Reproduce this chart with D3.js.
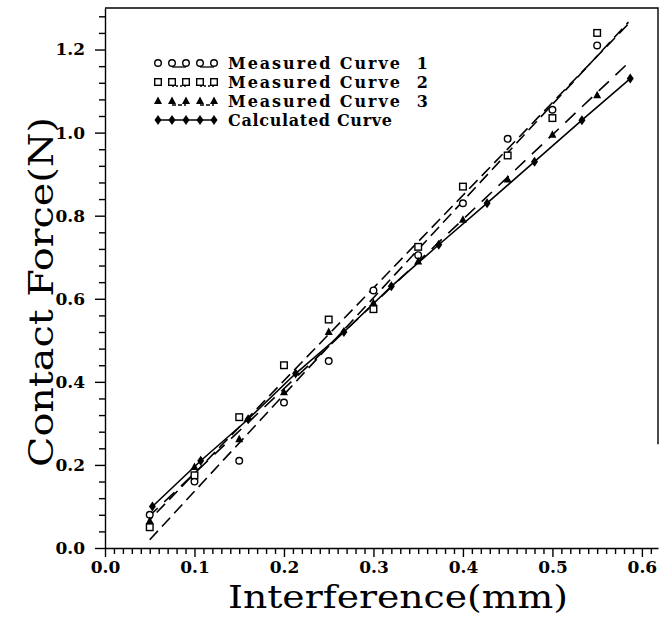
<!DOCTYPE html>
<html lang="en">
<head>
  <meta charset="UTF-8" />
  <title>Contact Force vs Interference</title>
  <script src="https://d3js.org/d3.v7.min.js"></script>
  <style>
    body { margin: 0; background: #ffffff; }
    svg { display: block; }
    .tick text {
      font-family: "DejaVu Serif", serif;
      font-weight: bold;
      font-size: 17px;
      fill: #000;
    }
    .axis path, .axis line { stroke: #000; stroke-width: 1.4; }
  </style>
</head>
<body>
  <div id="chart"></div>
  <script>
    // measured interference values (mm)
    const measX = [0.05, 0.10, 0.15, 0.20, 0.25, 0.30, 0.35, 0.40, 0.45, 0.50, 0.55];
    const curve1 = [0.08, 0.16, 0.21, 0.35, 0.45, 0.62, 0.705, 0.83, 0.985, 1.055, 1.21];
    const curve2 = [0.05, 0.175, 0.315, 0.44, 0.55, 0.575, 0.725, 0.87, 0.945, 1.035, 1.24];
    const curve3 = [0.065, 0.195, 0.262, 0.375, 0.52, 0.59, 0.69, 0.79, 0.887, 0.995, 1.09];

    // calculated curve
    const calcX = [0.053, 0.107, 0.16, 0.213, 0.267, 0.32, 0.373, 0.427, 0.48, 0.533, 0.587];
    const calcY = [0.10, 0.21, 0.31, 0.42, 0.52, 0.63, 0.73, 0.83, 0.93, 1.03, 1.13];

    // straight fitted lines through the measured points (end points)
    const fitX = [0.05, 0.585];
    const fit1 = [0.02, 1.266];
    const fit2 = [0.068, 1.262];
    const fit3 = [0.078, 1.168];

    const xTicks = [0.0, 0.1, 0.2, 0.3, 0.4, 0.5, 0.6];
    const yTicks = [0.0, 0.2, 0.4, 0.6, 0.8, 1.0, 1.2];
    const xMinorStep = 0.01;
    const yMinorStep = 0.04;

    const legendLabels = ["Measured Curve  1", "Measured Curve  2", "Measured Curve  3", "Calculated Curve"];

    const width = 660, height = 617;
    const svg = d3.select("#chart").append("svg")
      .attr("width", width)
      .attr("height", height);

    const x = d3.scaleLinear().domain([0, 0.618]).range([105, 658]);
    const y = d3.scaleLinear().domain([0, 1.3]).range([548, 8]);

    // minor ticks
    const xMinor = d3.range(0, 0.6151, xMinorStep).filter(v => Math.abs(v * 10 - Math.round(v * 10)) > 1e-6);
    const yMinor = d3.range(0, 1.2901, yMinorStep).filter(v => Math.abs(v * 5 - Math.round(v * 5)) > 1e-6);

    svg.append("g")
      .attr("class", "axis")
      .attr("transform", `translate(0,${y(0)})`)
      .call(d3.axisBottom(x).tickValues(xMinor).tickSize(6).tickFormat(""))
      .select(".domain").remove();

    svg.append("g")
      .attr("class", "axis")
      .attr("transform", `translate(0,${y(0)})`)
      .call(d3.axisBottom(x).tickValues(xTicks).tickSize(9).tickSizeOuter(0).tickPadding(4)
        .tickFormat(d3.format(".1f")));

    svg.append("g")
      .attr("class", "axis")
      .attr("transform", `translate(${x(0)},0)`)
      .call(d3.axisLeft(y).tickValues(yMinor).tickSize(6).tickFormat(""))
      .select(".domain").remove();

    svg.append("g")
      .attr("class", "axis")
      .attr("transform", `translate(${x(0)},0)`)
      .call(d3.axisLeft(y).tickValues(yTicks).tickSize(10).tickSizeOuter(0).tickPadding(10)
        .tickFormat(d3.format(".1f")));

    // frame: top and (partial) right edge
    svg.append("path")
      .attr("d", `M${x(0)},${y(1.3)}H${x(0.618)}V${y(0.25)}`)
      .attr("fill", "none")
      .attr("stroke", "#000")
      .attr("stroke-width", 1.4);

    // axis titles
    svg.append("text")
      .attr("x", 398)
      .attr("y", 608)
      .attr("text-anchor", "middle")
      .attr("textLength", 340)
      .attr("lengthAdjust", "spacingAndGlyphs")
      .style("font-family", "'DejaVu Serif', serif")
      .style("font-size", "32px")
      .text("Interference(mm)");

    svg.append("text")
      .attr("transform", "translate(53,292) rotate(-90)")
      .attr("text-anchor", "middle")
      .attr("textLength", 350)
      .attr("lengthAdjust", "spacingAndGlyphs")
      .style("font-family", "'DejaVu Serif', serif")
      .style("font-size", "33px")
      .text("Contact Force(N)");

    const plot = svg.append("g");

    // fitted lines
    const fits = [
      { ys: fit1, dash: "12,6", offset: 0 },
      { ys: fit2, dash: "12,6", offset: 8 },
      { ys: fit3, dash: "14,9", offset: 3 }
    ];
    const lineGen = d3.line().x(d => x(d[0])).y(d => y(d[1]));

    fits.forEach(f => {
      plot.append("path")
        .datum(fitX.map((v, i) => [v, f.ys[i]]))
        .attr("fill", "none")
        .attr("stroke", "#000")
        .attr("stroke-width", 1.6)
        .attr("stroke-dasharray", f.dash)
        .attr("stroke-dashoffset", f.offset)
        .attr("d", lineGen);
    });

    // calculated line
    plot.append("path")
      .datum(calcX.map((v, i) => [v, calcY[i]]))
      .attr("fill", "none")
      .attr("stroke", "#000")
      .attr("stroke-width", 1.6)
      .attr("d", lineGen);

    // marker drawers
    function drawCircle(g, cx, cy) {
      g.append("circle").attr("cx", cx).attr("cy", cy).attr("r", 3.3)
        .attr("fill", "#fff").attr("stroke", "#000").attr("stroke-width", 1.4);
    }
    function drawSquare(g, cx, cy) {
      g.append("rect").attr("x", cx - 3.3).attr("y", cy - 3.3).attr("width", 6.6).attr("height", 6.6)
        .attr("fill", "#fff").attr("stroke", "#000").attr("stroke-width", 1.4);
    }
    function drawTriangle(g, cx, cy) {
      g.append("path").attr("d", `M${cx},${cy - 4.5}L${cx + 4},${cy + 3}L${cx - 4},${cy + 3}Z`)
        .attr("fill", "#000");
    }
    function drawDiamond(g, cx, cy) {
      g.append("path").attr("d", `M${cx},${cy - 5}L${cx + 3.5},${cy}L${cx},${cy + 5}L${cx - 3.5},${cy}Z`)
        .attr("fill", "#000");
    }

    const series = [
      { xs: measX, ys: curve1, draw: drawCircle },
      { xs: measX, ys: curve2, draw: drawSquare },
      { xs: measX, ys: curve3, draw: drawTriangle },
      { xs: calcX, ys: calcY, draw: drawDiamond }
    ];

    series.forEach(s => {
      s.xs.forEach((v, i) => s.draw(plot, x(v), y(s.ys[i])));
    });

    // legend
    const legend = svg.append("g");
    const legX = [158, 172, 186, 200, 214];
    const legY = [63, 82, 101, 120];
    const legLen = [200, 200, 200, 164];
    const legStyles = ["", "2,2", "4,2", ""];

    series.forEach((s, r) => {
      const ly = legY[r];
      if (r < 3) {
        [[1, 2], [3, 4]].forEach(([a, b]) => {
          legend.append("line")
            .attr("x1", legX[a]).attr("x2", legX[b])
            .attr("y1", ly + 4).attr("y2", ly + 4)
            .attr("stroke", "#000").attr("stroke-width", 1.3)
            .attr("stroke-dasharray", legStyles[r] || null);
        });
      } else {
        legend.append("line")
          .attr("x1", legX[0]).attr("x2", legX[4])
          .attr("y1", ly).attr("y2", ly)
          .attr("stroke", "#000").attr("stroke-width", 1.6);
      }
      legX.forEach(lx => s.draw(legend, lx, ly));
      legend.append("text")
        .attr("x", 228)
        .attr("y", ly + 6)
        .attr("textLength", legLen[r])
        .attr("lengthAdjust", "spacing")
        .style("font-family", "'DejaVu Serif', serif")
        .style("font-weight", "bold")
        .style("font-size", "16px")
        .style("white-space", "pre")
        .text(legendLabels[r]);
    });
  </script>
</body>
</html>
